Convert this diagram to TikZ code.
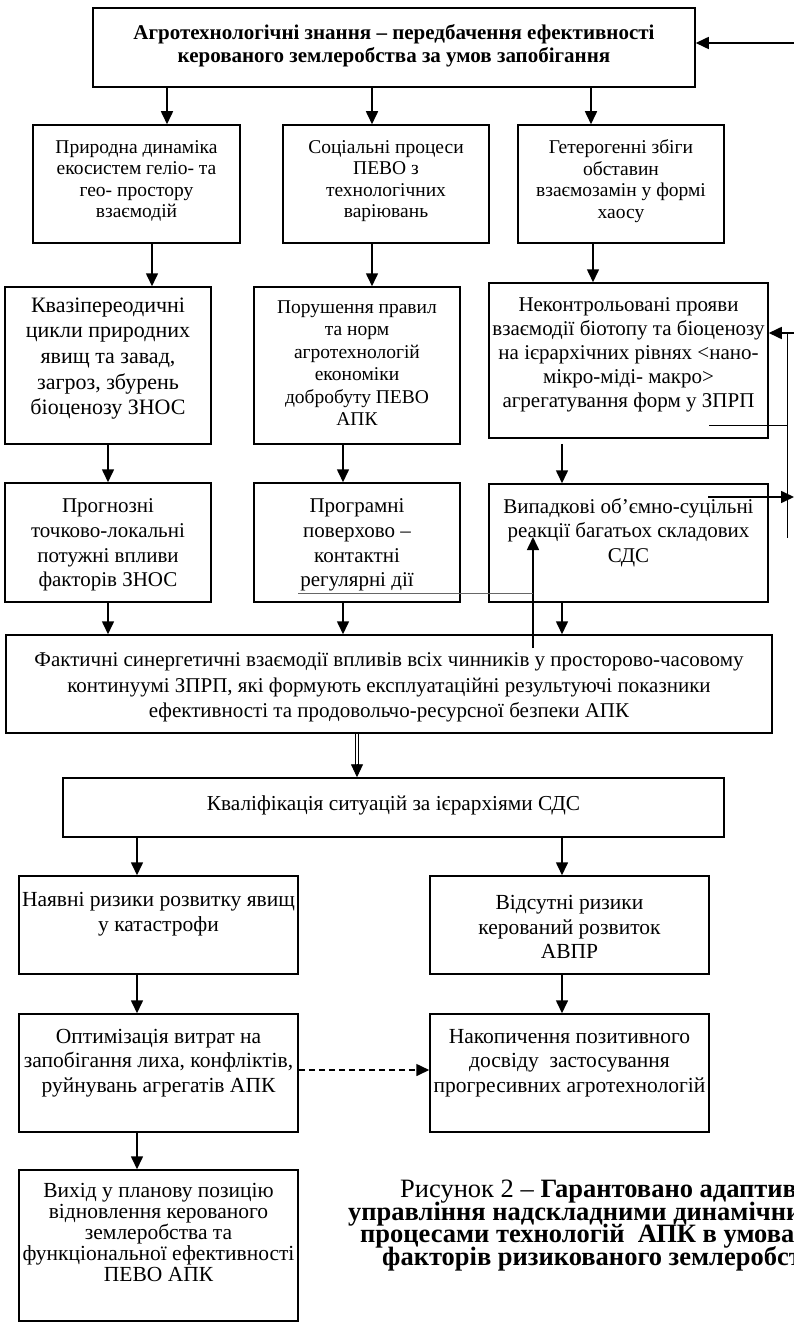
\documentclass[tikz,border=0pt]{standalone}
\usepackage{fontspec}
\setmainfont{Liberation Serif}
\usetikzlibrary{arrows.meta}
\begin{document}
\begin{tikzpicture}[x=1pt,y=-1pt,
  box/.style={draw, line width=1.5pt, inner sep=0pt},
  txt/.style={align=center, inner sep=0pt},
  fA/.style={font=\fontsize{19.5}{21.5}\selectfont},
  fB/.style={font=\fontsize{22}{25.7}\selectfont},
  fM/.style={font=\fontsize{21.5}{24.7}\selectfont},
  fT/.style={font=\fontsize{21}{22.5}\selectfont\bfseries},
  fC/.style={font=\fontsize{26.5}{22.5}\selectfont},
  fCb/.style={font=\fontsize{26.5}{22.5}\selectfont\bfseries},
  captxt/.style={inner sep=0pt, anchor=base west},
  arr/.style={line width=1.6pt, -{Triangle[length=13pt,width=12pt]}},
  thinline/.style={line width=0.8pt},
  grayline/.style={line width=0.8pt, draw=black!60}]
\useasboundingbox (0,0) rectangle (794,1324);
\clip (0,0) rectangle (794,1324);

% ---------- top box ----------
\node[box, minimum width=602pt, minimum height=79pt] (t) at (394,47.5) {};
\node[txt, fT] (tt) at (394,46) {Агротехнологічні знання – передбачення ефективності\\керованого землеробства за умов запобігання};

% ---------- row A ----------
\node[box, minimum width=207pt, minimum height=118pt] (a1) at (136.5,184) {};
\node[box, minimum width=206pt, minimum height=118pt] (a2) at (386,184) {};
\node[box, minimum width=206pt, minimum height=118pt] (a3) at (621,184) {};
\node[txt, fA] (a1t) at (136.5,181) {Природна динаміка\\екосистем геліо- та\\гео- простору\\взаємодій};
\node[txt, fA] (a2t) at (386,181) {Соціальні процеси\\ПЕВО з\\технологічних\\варіювань};
\node[txt, fA] (a3t) at (621,181) {Гетерогенні збіги\\обставин\\взаємозамін у формі\\хаосу};

% ---------- row B ----------
\node[box, minimum width=206pt, minimum height=157pt] (b1) at (108,365.5) {};
\node[box, minimum width=206pt, minimum height=157pt] (b2) at (357,365.5) {};
\node[box, minimum width=279pt, minimum height=155pt] (b3) at (628.5,360.5) {};
\node[txt, fB] (b1t) at (108,358.5) {Квазіпереодичні\\цикли природних\\явищ та завад,\\загроз, збурень\\біоценозу ЗНОС};
\node[txt, font=\fontsize{19.5}{22.5}\selectfont] (b2t) at (357,363) {Порушення правил\\та норм\\агротехнологій\\економіки\\добробуту ПЕВО\\АПК};
\node[txt, font=\fontsize{21}{24}\selectfont] (b3t) at (628.5,355) {Неконтрольовані прояви\\взаємодії біотопу та біоценозу\\на ієрархічних рівнях <нано-\\мікро-міді- макро>\\агрегатування форм у ЗПРП};

% ---------- row C ----------
\node[box, minimum width=206pt, minimum height=119pt] (c1) at (108,542.5) {};
\node[box, minimum width=206pt, minimum height=119pt] (c2) at (357,542.5) {};
\node[box, minimum width=279pt, minimum height=118pt] (c3) at (628.5,543) {};
\node[txt, font=\fontsize{21}{24.7}\selectfont] (c1t) at (108,545) {Прогнозні\\точково-локальні\\потужні впливи\\факторів ЗНОС};
\node[txt, font=\fontsize{21}{24.7}\selectfont] (c2t) at (357,545) {Програмні\\поверхово –\\контактні\\регулярні дії};
\node[txt, font=\fontsize{21}{24.7}\selectfont] (c3t) at (628.5,532.5) {Випадкові об’ємно-суцільні\\реакції багатьох складових\\СДС};

% ---------- row D ----------
\node[box, minimum width=766pt, minimum height=98pt] (d) at (389,684) {};
\node[txt, font=\fontsize{21}{25.5}\selectfont] (dt) at (389,687.5) {Фактичні синергетичні взаємодії впливів всіх чинників у просторово-часовому\\континуумі ЗПРП, які формують експлуатаційні результуючі показники\\ефективності та продовольчо-ресурсної безпеки АПК};

% ---------- K ----------
\node[box, minimum width=661pt, minimum height=59pt] (k) at (393.5,807.5) {};
\node[txt, font=\fontsize{21.3}{24.7}\selectfont] (kt) at (393.5,805) {Кваліфікація ситуацій за ієрархіями СДС};

% ---------- E, F, G ----------
\node[box, minimum width=279pt, minimum height=98pt] (e1) at (158.5,925) {};
\node[box, minimum width=279pt, minimum height=98pt] (e2) at (569.5,925) {};
\node[txt, fM] (e1t) at (158.5,914.5) {Наявні ризики розвитку явищ\\у катастрофи};
\node[txt, fM] (e2t) at (569.5,927) {Відсутні ризики\\керований розвиток\\АВПР};

\node[box, minimum width=279pt, minimum height=118pt] (f1) at (158.5,1073) {};
\node[box, minimum width=279pt, minimum height=118pt] (f2) at (569.5,1073) {};
\node[txt, fM] (f1t) at (158.5,1063) {Оптимізація витрат на\\запобігання лиха, конфліктів,\\руйнувань агрегатів АПК};
\node[txt, fM] (f2t) at (569.5,1063) {Накопичення позитивного\\досвіду\ \ застосування\\прогресивних агротехнологій};

\node[box, minimum width=279pt, minimum height=151pt] (g) at (158.5,1245.5) {};
\node[txt, font=\fontsize{21.5}{21}\selectfont] (gt) at (158.5,1232) {Вихід у планову позицію\\відновлення керованого\\землеробства та\\функціональної ефективності\\ПЕВО АПК};

% ---------- caption (cut off at the right edge, as in the original) ----------
\node[captxt, fC] (cap1) at (400,1197.5) {Рисунок 2 – \textbf{Гарантовано адаптивного}};
\node[captxt, fCb] (cap2) at (348,1220) {управління надскладними динамічними};
\node[captxt, fCb] (cap3) at (360,1242.5) {процесами технологій\ \ АПК в умовах};
\node[captxt, fCb] (cap4) at (382,1265) {факторів ризикованого землеробства};

% ---------- arrow x positions ----------
\coordinate (x1) at (167,0);
\coordinate (x2) at (372,0);
\coordinate (x3) at (591,0);
\coordinate (xa1) at (152,0);
\coordinate (xa3) at (593,0);
\coordinate (xb1) at (108,0);
\coordinate (xb2) at (343,0);
\coordinate (xb3) at (562,0);
\coordinate (xl) at (137,0);
\coordinate (xr) at (562,0);

% top -> A
\draw[arr] (t.south -| x1) -- (a1.north -| x1);
\draw[arr] (t.south -| x2) -- (a2.north -| x2);
\draw[arr] (t.south -| x3) -- (a3.north -| x3);
% A -> B
\draw[arr] (a1.south -| xa1) -- (b1.north -| xa1);
\draw[arr] (a2.south -| x2) -- (b2.north -| x2);
\draw[arr] (a3.south -| xa3) -- (b3.north -| xa3);
% B -> C
\draw[arr] (b1.south -| xb1) -- (c1.north -| xb1);
\draw[arr] (b2.south -| xb2) -- (c2.north -| xb2);
\draw[arr] ([yshift=-5pt]b3.south -| xb3) -- (c3.north -| xb3);
% C -> D
\draw[arr] (c1.south -| xb1) -- (d.north -| xb1);
\draw[arr] (c2.south -| xb2) -- (d.north -| xb2);
\draw[arr] (c3.south -| xb3) -- (d.north -| xb3);

% feedback up arrow and grey line
\coordinate (u0) at (533,648);
\coordinate (u1) at (533,537);
\draw[arr] (u0) -- (u1);
\coordinate (g0) at (298,593);
\draw[grayline] (g0) -- (g0 -| u1);

% right side
\coordinate (rt) at (794,43);
\draw[arr] (rt) -- (t.east |- rt);
\coordinate (rb) at (794,333);
\draw[arr] (rb) -- (b3.east |- rb);
\coordinate (v0) at (787,333);
\coordinate (v1) at (787,538);
\draw[thinline] (v0) -- (v1);
\coordinate (h0) at (709,425);
\draw[thinline] (h0) -- (h0 -| v0);
\coordinate (h1) at (708,497);
\coordinate (h2) at (794,497);
\draw[arr] (h1) -- (h2);

% D -> K double arrow
\coordinate (dx) at (357,0);
\draw[line width=0.9pt] ([xshift=-1.6pt]d.south -| dx) -- ([xshift=-1.6pt,yshift=11pt]k.north -| dx);
\draw[line width=0.9pt] ([xshift=1.6pt]d.south -| dx) -- ([xshift=1.6pt,yshift=11pt]k.north -| dx);
\draw[line width=0.9pt, -{Triangle[length=13pt,width=12pt]}] ([yshift=13pt]k.north -| dx) -- (k.north -| dx);

% K -> E
\draw[arr] (k.south -| xl) -- (e1.north -| xl);
\draw[arr] (k.south -| xr) -- (e2.north -| xr);
% E -> F
\draw[arr] (e1.south -| xl) -- (f1.north -| xl);
\draw[arr] (e2.south -| xr) -- (f2.north -| xr);
% F -> G
\draw[arr] (f1.south -| xl) -- (g.north -| xl);
% dashed
\coordinate (dy) at (0,1070);
\draw[arr, dash pattern=on 6pt off 4pt] (f1.east |- dy) -- (f2.west |- dy);
\end{tikzpicture}
\end{document}
